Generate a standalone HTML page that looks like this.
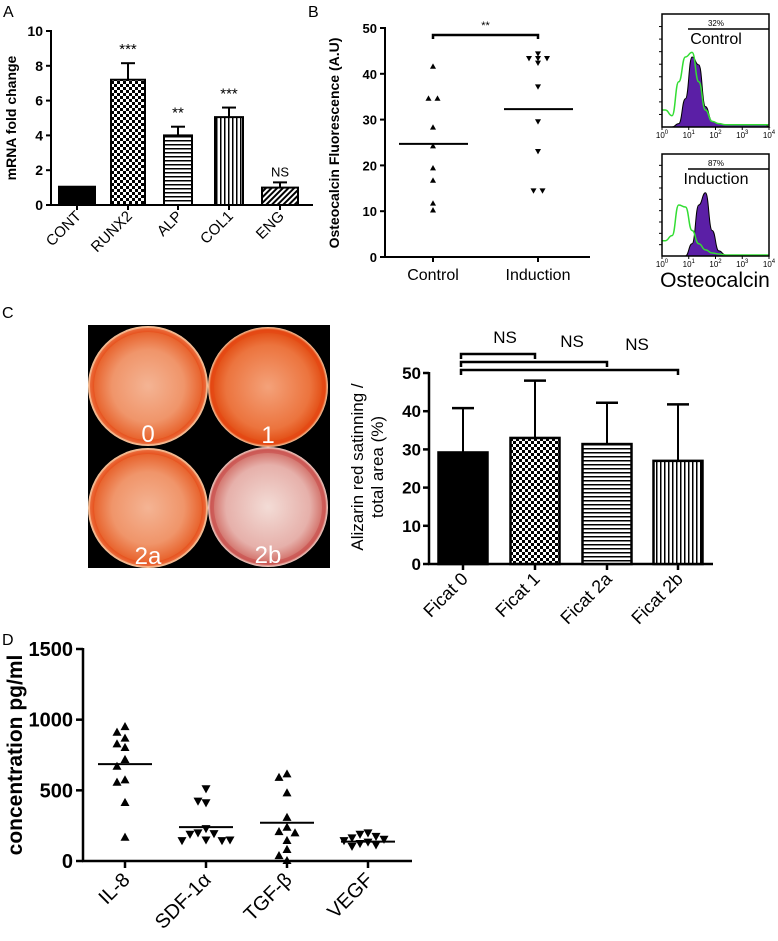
<!DOCTYPE html>
<html><head><meta charset="utf-8"><style>
html,body{margin:0;padding:0;background:#fff;}
svg{display:block;font-family:"Liberation Sans",Arial,sans-serif;}
</style></head><body>
<svg id="fig" width="778" height="941" viewBox="0 0 778 941">
<defs>
<pattern id="chk" width="6" height="6" patternUnits="userSpaceOnUse"><rect width="6" height="6" fill="#fff"/><rect width="3" height="3" fill="#000"/><rect x="3" y="3" width="3" height="3" fill="#000"/></pattern>
<pattern id="hl" width="4" height="4" patternUnits="userSpaceOnUse"><rect width="4" height="4" fill="#fff"/><rect width="4" height="1.5" fill="#000"/></pattern>
<pattern id="vl" width="4" height="4" patternUnits="userSpaceOnUse"><rect width="4" height="4" fill="#fff"/><rect width="1.5" height="4" fill="#000"/></pattern>
<pattern id="dg" width="4" height="4" patternUnits="userSpaceOnUse" patternTransform="rotate(45)"><rect width="4" height="4" fill="#fff"/><rect width="2" height="4" fill="#000"/></pattern>
<radialGradient id="dishO" cx="50%" cy="50%" r="50%"><stop offset="0" stop-color="#f4b494"/><stop offset="0.6" stop-color="#f0956a"/><stop offset="0.9" stop-color="#e8642e"/><stop offset="1" stop-color="#f7c7a0"/></radialGradient>
<radialGradient id="dishR" cx="50%" cy="50%" r="50%"><stop offset="0" stop-color="#f3dcd6"/><stop offset="0.7" stop-color="#e6b0aa"/><stop offset="0.95" stop-color="#d06a62"/><stop offset="1" stop-color="#f0d0c8"/></radialGradient>
<radialGradient id="dishO2" cx="50%" cy="50%" r="50%"><stop offset="0" stop-color="#f4a27a"/><stop offset="0.7" stop-color="#ec743e"/><stop offset="0.95" stop-color="#e24a10"/><stop offset="1" stop-color="#f7c7a0"/></radialGradient>
</defs>
<g id="root"></g>
</svg>
<script>
// ---------- Panel A data ----------
const aCats = ["CONT","RUNX2","ALP","COL1","ENG"];
const aVals = [1.05, 7.2, 4.0, 5.05, 1.0];
const aErrs = [0, 0.95, 0.5, 0.55, 0.3];
const aSig = ["", "***", "**", "***", "NS"];
const aTicks = [0,2,4,6,8,10];
// ---------- Panel B data ----------
const bCats = ["Control","Induction"];
const bControl = [41.7, 34.7, 34.7, 28.4, 24.3, 19.5, 16.8, 11.8, 10.3];
const bInduction = [44.3, 43.3, 43.3, 43.3, 42.3, 37.1, 29.5, 23.0, 14.4, 14.4];
const bMeans = [24.7, 32.3];
const bTicks = [0,10,20,30,40,50];
// flow histograms (relative counts per log bin, 0..4 decades, 16 bins)
const fTopIso = [0.15,0.1,0.4,0.62,0.66,0.4,0.15,0.05,0.03,0.02,0.02,0.02,0.02,0.02,0.02,0.02];
const fTopStain = [0,0,0.03,0.25,0.62,0.55,0.18,0.05,0.03,0.02,0.02,0.02,0.02,0.02,0.02,0.02];
const fBotIso = [0.15,0.2,0.5,0.48,0.25,0.12,0.06,0.03,0.02,0.01,0.01,0.01,0.01,0.01,0.01,0.01];
const fBotStain = [0,0,0,0,0.12,0.5,0.62,0.25,0.05,0.01,0,0,0,0,0,0];
const fTicks = ["0","1","2","3","4"];
// ---------- Panel C data ----------
const cCats = ["Ficat 0","Ficat 1","Ficat 2a","Ficat 2b"];
const cVals = [29.2, 33.0, 31.4, 27.0];
const cErrs = [11.6, 15.0, 10.8, 14.8];
const cTicks = [0,10,20,30,40,50];
// ---------- Panel D data ----------
const dCats = ["IL-8","SDF-1\u03b1","TGF-\u03b2","VEGF"];
const dIL8 = [955, 915, 873, 833, 807, 722, 674, 578, 561, 418, 172];
const dSDF = [507, 408, 420, 225, 195, 190, 185, 145, 140, 140, 145];
const dTGF = [620, 596, 486, 313, 243, 212, 203, 149, 85, 42, 7];
const dVEGF = [195, 185, 170, 160, 150, 140, 130, 120, 110, 100];
const dMeans = [685, 240, 271, 137];
const dTicks = [0,500,1000,1500];

const NS = "http://www.w3.org/2000/svg";
const root = document.getElementById('root');
function el(tag, attrs, parent, text){
  const e = document.createElementNS(NS, tag);
  for (const k in attrs) e.setAttribute(k, attrs[k]);
  if (text !== undefined) e.textContent = text;
  (parent||root).appendChild(e);
  return e;
}
function line(x1,y1,x2,y2,w,p){return el('line',{x1,y1,x2,y2,stroke:'#000','stroke-width':w||2},p);}
function tri(p,x,y,s,down){
  const h=s*0.9;
  const pts = down ? `${x-s/2},${y-h/2} ${x+s/2},${y-h/2} ${x},${y+h/2}` : `${x-s/2},${y+h/2} ${x+s/2},${y+h/2} ${x},${y-h/2}`;
  return el('polygon',{points:pts,fill:'#000'},p);
}

// ================= PANEL A =================
(function(){
  const g = el('g',{});
  
  
  const t = el('text',{x:3,y:17,'font-size':16},g,'A');
   
  const x0=51, y0=205, y10=31;
  const ys = v => y0 - (v/10)*(y0-y10);
  const cx = [77,128,178,229,280], bw=[36,34,28,28,36];
  const fills=['#000','url(#chk)','url(#hl)','url(#vl)','url(#dg)'];
  line(x0,y10-1,x0,y0+1,2,g); line(x0-1,y0,313,y0,2,g);
  aTicks.forEach(v=>{ line(x0-5,ys(v),x0,ys(v),2,g);
    const tx=el('text',{x:x0-8,y:ys(v)+5,'font-size':14,'font-weight':'bold','text-anchor':'end'},g,String(v));
      });
  const yt = el('text',{transform:'translate(16,118) rotate(-90)','font-size':14,'font-weight':'bold','text-anchor':'middle'},g,'mRNA fold change');
   
  aCats.forEach((c,i)=>{
    const x=cx[i];
    if (aErrs[i]>0){ line(x,ys(aVals[i]),x,ys(aVals[i]+aErrs[i]),2,g); line(x-7,ys(aVals[i]+aErrs[i]),x+7,ys(aVals[i]+aErrs[i]),2,g); }
    const b = el('rect',{x:x-bw[i]/2,y:ys(aVals[i]),width:bw[i],height:y0-ys(aVals[i]),fill:fills[i],stroke:'#000','stroke-width':2},g);
     
    line(x,y0,x,y0+5,2,g);
    const lb = el('text',{transform:`translate(${x+5},${y0+12}) rotate(-45)`,'font-size':15,'text-anchor':'end'},g,c);
     
    if (aSig[i]){
      const st = el('text',{x:x,y:aSig[i]==='NS'?ys(aVals[i]+aErrs[i])-6:ys(aVals[i]+aErrs[i])-9,'font-size':aSig[i]==='NS'?13:15,'text-anchor':'middle'},g,aSig[i]);
        }
  });
})();

// ================= PANEL B =================
(function(){
  const g = el('g',{});
  
  
  const t = el('text',{x:308,y:17,'font-size':16},g,'B');
   
  const x0=385, y0=257, y50=28;
  const ys = v => y0 - (v/50)*(y0-y50);
  const cx=[433,538];
  line(x0,y50-1,x0,y0+1,2,g); line(x0-1,y0,590,y0,2,g);
  bTicks.forEach(v=>{ line(x0-5,ys(v),x0,ys(v),2,g);
    const tx=el('text',{x:x0-8,y:ys(v)+5,'font-size':13,'font-weight':'bold','text-anchor':'end'},g,String(v));
      });
  const yt = el('text',{transform:'translate(339,143) rotate(-90)','font-size':14,'font-weight':'bold','text-anchor':'middle'},g,'Osteocalcin Fluorescence (A.U)');
   
  [bControl,bInduction].forEach((arr,k)=>{
    const seen={};
    arr.forEach(v=>{ const key=v.toFixed(1); seen[key]=(seen[key]||0); const n=seen[key]++;
      const cnt=arr.filter(a=>a.toFixed(1)===key).length;
      const off = cnt>1 ? (n-(cnt-1)/2)*9 : 0;
      const p = tri(g,cx[k]+off,ys(v),6,k===1);
        });
    const m = line(cx[k]-34,ys(bMeans[k]),cx[k]+35,ys(bMeans[k]),2,g);
     
    line(cx[k],y0,cx[k],y0+5,2,g);
    const lb=el('text',{x:cx[k],y:280,'font-size':16,'text-anchor':'middle'},g,bCats[k]);
     
  });
  const by = 35;
  const br = el('path',{d:`M${cx[0]},${by+4} V${by} H${cx[1]} V${by+4}`,fill:'none',stroke:'#000','stroke-width':2.5},g);
   
  const st = el('text',{x:(cx[0]+cx[1])/2,y:by-6,'font-size':11,'text-anchor':'middle'},g,'**');
   

  function hist(top,bot,iso,stain,pct,name){
    const L=662,R=769, H=bot-top;
    const hg = el('g',{},g);
     
    const xb = i => L + (i+0.5)*(R-L)/iso.length;
    function smooth(arr, close){
      const pts=arr.map((v,i)=>[xb(i),bot-v*H]);
      let d = close ? `M${L},${bot} L${pts[0][0]},${pts[0][1]}` : `M${L},${bot-arr[0]*H} L${pts[0][0]},${pts[0][1]}`;
      for(let i=1;i<pts.length;i++){const mx=(pts[i-1][0]+pts[i][0])/2; d+=` C${mx},${pts[i-1][1]} ${mx},${pts[i][1]} ${pts[i][0]},${pts[i][1]}`;}
      d+= close ? ` L${R},${bot} Z` : ` L${R},${pts[pts.length-1][1]}`;
      return d;
    }
    const sp = el('path',{d:smooth(stain,true),fill:'#5b1fa6',stroke:'#000','stroke-width':1},hg);
     
    const ip = el('path',{d:smooth(iso,false),fill:'none',stroke:'#33dd33','stroke-width':1.5},hg);
     
    el('rect',{x:L,y:top,width:R-L,height:H,fill:'none',stroke:'#000','stroke-width':1.5},hg);
    for(let k=1;k<9;k++) line(L-3,top+k*H/9,L,top+k*H/9,1,hg);
    fTicks.forEach((tk,i)=>{ const x=L+i*(R-L)/4; line(x,bot,x,bot+3,1,hg);
      const tt=el('text',{x:x,y:bot+11,'font-size':8,'text-anchor':'middle'},hg,'10');
      el('tspan',{dy:-4,'font-size':6},tt,tk);
        });
    line(688,top+15,769,top+15,1.5,hg);
    const pt=el('text',{x:716,y:top+12,'font-size':8,'text-anchor':'middle'},hg,pct);
     
    const nt=el('text',{x:716,y:top+30,'font-size':16,'text-anchor':'middle'},hg,name);
     
  }
  hist(14,127,fTopIso,fTopStain,'32%','Control');
  hist(154,256,fBotIso,fBotStain,'87%','Induction');
  const ot=el('text',{x:715,y:287,'font-size':21,'text-anchor':'middle'},g,'Osteocalcin');
   
})();

// ================= PANEL C =================
(function(){
  const g = el('g',{});
  
  
  const t = el('text',{x:2,y:318,'font-size':16},g,'C');
   
  const ph = el('g',{},g);
   
  el('rect',{x:88,y:325,width:242,height:243,fill:'#000'},ph);
  const dishes=[[148,386,'0','url(#dishO)'],[268,387,'1','url(#dishO2)'],[148,508,'2a','url(#dishO)'],[268,507,'2b','url(#dishR)']];
  dishes.forEach(d=>{
    const c=el('circle',{cx:d[0],cy:d[1],r:60,fill:d[3]},ph);
     
    el('circle',{cx:d[0],cy:d[1],r:56,fill:'none',stroke:d[2]==='2b'?'rgba(200,70,70,0.5)':'rgba(230,70,20,0.6)','stroke-width':4},ph);
    const lt=el('text',{x:d[0],y:d[1]+56,'font-size':24,fill:'#fff','text-anchor':'middle'},ph,d[2]);
     
  });
  const x0=429, y0=564, y50=373;
  const ys=v=>y0-(v/50)*(y0-y50);
  const cx=[463,535,607,678], bw=49;
  const fills=['#000','url(#chk)','url(#hl)','url(#vl)'];
  line(x0,y50-1,x0,y0+1,2.5,g); line(x0-1,y0,713,y0,2.5,g);
  cTicks.forEach(v=>{ line(x0-6,ys(v),x0,ys(v),2.5,g);
    const tx=el('text',{x:x0-8,y:ys(v)+6,'font-size':17,'font-weight':'bold','text-anchor':'end'},g,String(v));
      });
  const yt=el('text',{transform:'translate(363,467) rotate(-90)','font-size':17,'text-anchor':'middle'},g);
   
  el('tspan',{x:0,y:0},yt,'Alizarin red satinning /');
  el('tspan',{x:0,y:20},yt,'total area (%)');
  cCats.forEach((c,i)=>{
    const x=cx[i], top=ys(cVals[i]+cErrs[i]);
    line(x,ys(cVals[i]),x,top,2,g); line(x-11,top,x+11,top,2.5,g);
    const b=el('rect',{x:x-bw/2,y:ys(cVals[i]),width:bw,height:y0-ys(cVals[i]),fill:fills[i],stroke:'#000','stroke-width':2.5},g);
     
    line(x,y0,x,y0+6,2.5,g);
    const lb=el('text',{transform:`translate(${x+6},${y0+16}) rotate(-45)`,'font-size':18,'text-anchor':'end'},g,c);
     
  });
  const bys=[354,362,370], nsx=[505,572,637], nsy=[343,347,350];
  [1,2,3].forEach((j,k)=>{
    const p=el('path',{d:`M461,${bys[k]+5} V${bys[k]} H${cx[j]} V${bys[k]+5}`,fill:'none',stroke:'#000','stroke-width':2.5},g);
     
    const n=el('text',{x:nsx[k],y:nsy[k],'font-size':17,'text-anchor':'middle'},g,'NS');
     
  });
})();

// ================= PANEL D =================
(function(){
  const g = el('g',{});
  
  
  const t = el('text',{x:2,y:645,'font-size':16},g,'D');
   
  const x0=83, y0=861, yT=649;
  const ys=v=>y0-(v/1500)*(y0-yT);
  const cx=[125,206,287,368];
  line(x0,yT-1,x0,y0+1,2.5,g); line(x0-1,y0,412,y0,2.5,g);
  dTicks.forEach(v=>{ line(x0-7,ys(v),x0,ys(v),2.5,g);
    const tx=el('text',{x:x0-10,y:ys(v)+7,'font-size':20,'font-weight':'bold','text-anchor':'end'},g,String(v));
      });
  const yt=el('text',{transform:'translate(22,755) rotate(-90)','font-size':21,'font-weight':'bold','text-anchor':'middle'},g,'concentration pg/ml');
   
  const series=[dIL8,dSDF,dTGF,dVEGF], down=[false,true,false,true];
  series.forEach((arr,k)=>{
    const placed=[];
    arr.forEach(v=>{
      const y=ys(v); let slot=0;
      const offs=[0,-8,8,-16,16,-24,24,-32,32];
      while(placed.some(p=>Math.abs(p.y-y)<8 && Math.abs(p.o-offs[slot])<8) && slot<offs.length-1) slot++;
      const off=offs[slot]; placed.push({y,o:off});
      const p=tri(g,cx[k]+off,y,9,down[k]);
       
    });
    const m=line(cx[k]-27,ys(dMeans[k]),cx[k]+27,ys(dMeans[k]),2,g);
     
    line(cx[k],y0,cx[k],y0+7,2.5,g);
    const lb=el('text',{transform:`translate(${cx[k]+6},${y0+20}) rotate(-45)`,'font-size':20,'text-anchor':'end'},g,dCats[k]);
     
  });
})();
</script>
</body></html>
